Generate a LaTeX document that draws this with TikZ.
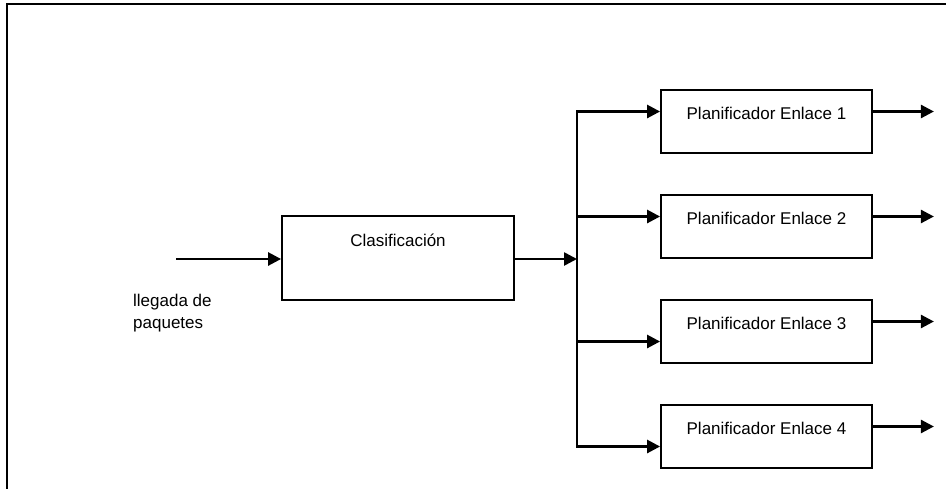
\documentclass[tikz,border=0pt]{standalone}
\usepackage{fontspec}
\setmainfont{Liberation Sans}
\usetikzlibrary{arrows.meta,calc}

\begin{document}
\begin{tikzpicture}[x=1pt,y=-1pt,
  block/.style={draw,line width=1.8pt,minimum width=211pt,minimum height=63pt,inner sep=0pt,text height=13pt,text depth=18pt,font=\fontsize{17}{20}\selectfont},
  flow/.style={-{Triangle[length=13pt,width=13pt]},line width=2.6pt},
  wire/.style={line width=2.6pt,line cap=rect}]
\useasboundingbox (0,0) rectangle (946,488);
\draw[line width=2pt] (7,492) -- (7,4) -- (950,4);
\node[block,minimum width=232pt,minimum height=84pt,text depth=36pt] (clas) at (398,258) {Clasificación};
\foreach \i in {1,...,4}
  \node[block] (plan\i) at (766.5,{121.5+105*(\i-1)}) {Planificador Enlace \i\hspace{13pt}};
\node[anchor=north west,inner sep=0pt,align=left,font=\fontsize{17}{21.3}\selectfont] (llegada) at (133,294.3) {llegada de\\paquetes};
\coordinate (src) at (176,259);
\coordinate (bus) at (577,259);
\draw[flow] (src) -- (clas.west |- src);
\draw[flow] (clas.east |- bus) -- (bus);
\foreach \i/\d in {1/-10,2/-10,3/10,4/10} {
  \coordinate (in\i) at ($(plan\i.west)+(0,\d)$);
  \coordinate (out\i) at ($(plan\i.east)+(0,-10)$);
  \coordinate (end\i) at ($(out\i)+(61,0)$);
  \draw[flow] (bus |- in\i) -- (in\i);
  \draw[flow] (out\i) -- (end\i);
}
\draw[wire] (bus |- in1) -- (bus |- in4);
\end{tikzpicture}
\end{document}
